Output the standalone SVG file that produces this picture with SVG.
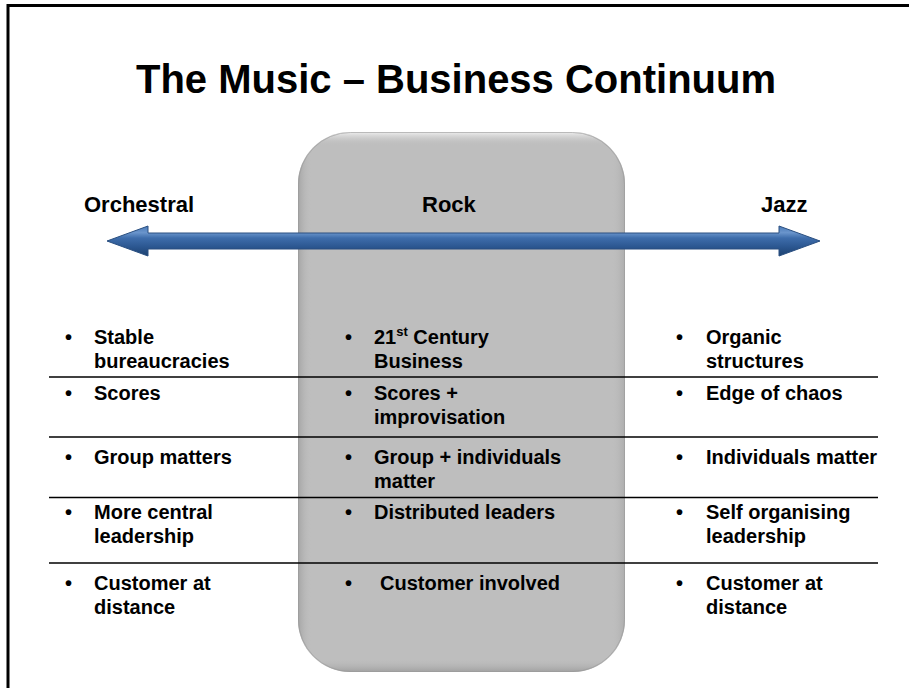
<svg xmlns="http://www.w3.org/2000/svg" width="909" height="688" viewBox="0 0 909 688">
  <defs>
    <style>
      text { font-family: "Liberation Sans", Arial, sans-serif; font-weight: bold; fill: #000; }
      .title { font-size: 40px; text-anchor: middle; }
      .label { font-size: 22px; }
      .item { font-size: 20px; }
      .rule { stroke: #000; stroke-width: 1.4; fill: none; }
    </style>
    <linearGradient id="arrowFill" gradientUnits="userSpaceOnUse" x1="0" y1="226" x2="0" y2="256">
      <stop offset="0" stop-color="#4a79b6"/>
      <stop offset="0.22" stop-color="#6a95cc"/>
      <stop offset="0.4" stop-color="#3e6dab"/>
      <stop offset="0.7" stop-color="#2b5690"/>
      <stop offset="1" stop-color="#1d4270"/>
    </linearGradient>
    <linearGradient id="boxSides" x1="0" y1="0" x2="1" y2="0">
      <stop offset="0" stop-color="#9e9e9e" stop-opacity="0.8"/>
      <stop offset="0.04" stop-color="#bdbdbd" stop-opacity="0"/>
      <stop offset="0.96" stop-color="#bdbdbd" stop-opacity="0"/>
      <stop offset="1" stop-color="#a5a5a5" stop-opacity="0.7"/>
    </linearGradient>
    <linearGradient id="boxEnds" x1="0" y1="0" x2="0" y2="1">
      <stop offset="0" stop-color="#f4f4f4" stop-opacity="0.9"/>
      <stop offset="0.025" stop-color="#bdbdbd" stop-opacity="0"/>
      <stop offset="0.975" stop-color="#bdbdbd" stop-opacity="0"/>
      <stop offset="1" stop-color="#8c8c8c" stop-opacity="0.6"/>
    </linearGradient>
  </defs>

  <rect x="0" y="0" width="909" height="688" fill="#fff"/>
  <!-- slide frame: top and left edges -->
  <path d="M8 688 V5.5 H909" fill="none" stroke="#000" stroke-width="3"/>

  <g id="title">
    <text class="title" x="456" y="93">The Music – Business Continuum</text>
  </g>

  <!-- central rounded panel for the Rock column -->
  <g id="rock-panel">
    <rect x="298" y="132" width="327" height="540" rx="52" ry="52" fill="#bebebe"/>
    <rect x="298" y="132" width="327" height="540" rx="52" ry="52" fill="url(#boxSides)"/>
    <rect x="298" y="132" width="327" height="540" rx="52" ry="52" fill="url(#boxEnds)"/>
    <rect x="298.5" y="132.5" width="326" height="539" rx="52" ry="52" fill="none" stroke="#9a9a9a" stroke-width="1" stroke-opacity="0.6"/>
  </g>

  <g id="labels">
    <text class="label" x="84" y="212">Orchestral</text>
    <text class="label" x="422" y="212">Rock</text>
    <text class="label" x="761" y="212">Jazz</text>
  </g>

  <g id="connectors">
    <!-- double-headed continuum arrow -->
    <path d="M107 241 L148 226 L148 233 L779 233 L779 226 L820 241 L779 256 L779 249 L148 249 L148 256 Z"
          fill="url(#arrowFill)" stroke="#2a4f80" stroke-width="1"/>
    <!-- row dividers -->
    <line class="rule" x1="49" y1="377" x2="878" y2="377"/>
    <line class="rule" x1="49" y1="437" x2="878" y2="437"/>
    <line class="rule" x1="49" y1="497.5" x2="878" y2="497.5"/>
    <line class="rule" x1="49" y1="563" x2="878" y2="563"/>
  </g>

  <g id="orchestral-column" class="item">
    <text class="item" x="65" y="344">•</text>
    <text class="item" x="94" y="344">Stable</text>
    <text class="item" x="94" y="368">bureaucracies</text>
    <text class="item" x="65" y="400">•</text>
    <text class="item" x="94" y="400">Scores</text>
    <text class="item" x="65" y="464">•</text>
    <text class="item" x="94" y="464">Group matters</text>
    <text class="item" x="65" y="519">•</text>
    <text class="item" x="94" y="519">More central</text>
    <text class="item" x="94" y="543">leadership</text>
    <text class="item" x="65" y="590">•</text>
    <text class="item" x="94" y="590">Customer at</text>
    <text class="item" x="94" y="614">distance</text>
  </g>

  <g id="rock-column">
    <text class="item" x="345" y="344">•</text>
    <text class="item" x="374" y="344">21<tspan font-size="13" dy="-8">st</tspan><tspan dy="8"> Century</tspan></text>
    <text class="item" x="374" y="368">Business</text>
    <text class="item" x="345" y="400">•</text>
    <text class="item" x="374" y="400">Scores +</text>
    <text class="item" x="374" y="424">improvisation</text>
    <text class="item" x="345" y="464">•</text>
    <text class="item" x="374" y="464">Group + individuals</text>
    <text class="item" x="374" y="488">matter</text>
    <text class="item" x="345" y="519">•</text>
    <text class="item" x="374" y="519">Distributed leaders</text>
    <text class="item" x="345" y="590">•</text>
    <text class="item" x="380" y="590">Customer involved</text>
  </g>

  <g id="jazz-column">
    <text class="item" x="676" y="344">•</text>
    <text class="item" x="706" y="344">Organic</text>
    <text class="item" x="706" y="368">structures</text>
    <text class="item" x="676" y="400">•</text>
    <text class="item" x="706" y="400">Edge of chaos</text>
    <text class="item" x="676" y="464">•</text>
    <text class="item" x="706" y="464">Individuals matter</text>
    <text class="item" x="676" y="519">•</text>
    <text class="item" x="706" y="519">Self organising</text>
    <text class="item" x="706" y="543">leadership</text>
    <text class="item" x="676" y="590">•</text>
    <text class="item" x="706" y="590">Customer at</text>
    <text class="item" x="706" y="614">distance</text>
  </g>
</svg>
